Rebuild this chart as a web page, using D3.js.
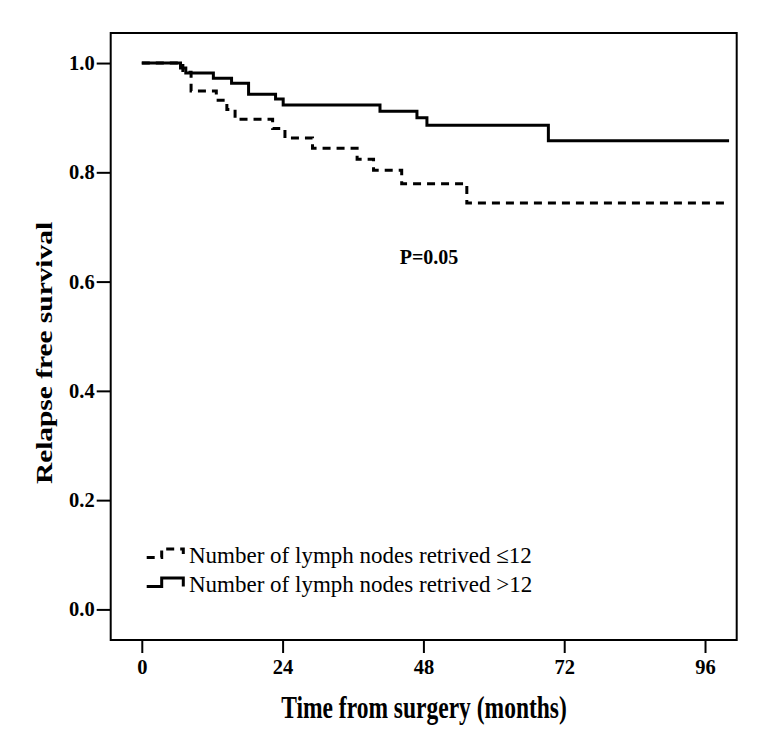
<!DOCTYPE html>
<html><head><meta charset="utf-8">
<script src="https://cdn.jsdelivr.net/npm/d3@7/dist/d3.min.js"></script>
<style>body{margin:0;background:#fff}svg{display:block}</style>
</head><body>
<script>
// ---- data ----
const lowTimes = [0, 7.0, 8.4, 12.7, 14.5, 15.9, 22.3, 24.4, 29.1, 36.7, 39.5, 44.3, 55.4, 100.1];
const lowSurv  = [1.0, 0.983, 0.949, 0.932, 0.915, 0.897, 0.880, 0.863, 0.844, 0.824, 0.804, 0.779, 0.744, 0.744];
const highTimes = [0, 6.6, 7.5, 12.2, 15.3, 18.2, 22.8, 24.1, 40.6, 46.9, 48.6, 69.3, 100.1];
const highSurv  = [1.0, 0.991, 0.982, 0.972, 0.963, 0.943, 0.934, 0.923, 0.912, 0.900, 0.886, 0.858, 0.858];
const xTicks = [0, 24, 48, 72, 96];
const yTicks = [0.0, 0.2, 0.4, 0.6, 0.8, 1.0];
const legendLabels = ["Number of lymph nodes retrived \u226412", "Number of lymph nodes retrived >12"];
const pLabel = "P=0.05";
const xTitle = "Time from surgery (months)";
const yTitle = "Relapse free survival";

const W = 770, H = 742;
const box = {left: 110.7, right: 736.7, top: 33, bottom: 640};
const svg = d3.select("body").append("svg").attr("width", W).attr("height", H);
const font = "'Liberation Serif','Times New Roman',serif";

const x = d3.scaleLinear().domain([-5.3, 101.4]).range([box.left, box.right]);
const y = d3.scaleLinear().domain([-0.056, 1.055]).range([box.bottom, box.top]);

// axes
const yAxis = svg.append("g").attr("transform", `translate(${box.left},0)`)
  .call(d3.axisLeft(y).tickValues(yTicks).tickSize(14).tickPadding(2).tickFormat(d3.format(".1f")));
const xAxis = svg.append("g").attr("transform", `translate(0,${box.bottom})`)
  .call(d3.axisBottom(x).tickValues(xTicks).tickSize(13).tickPadding(6).tickFormat(d3.format("d")));
[yAxis, xAxis].forEach(g => {
  g.select(".domain").remove();
  g.selectAll(".tick line").attr("stroke", "#000").attr("stroke-width", 2);
  g.selectAll(".tick text").attr("fill", "#000").style("font-family", font)
    .style("font-weight", "bold").style("font-size", "20.5px");
});

// box
svg.append("rect").attr("x", box.left).attr("y", box.top)
  .attr("width", box.right - box.left).attr("height", box.bottom - box.top)
  .attr("fill", "none").attr("stroke", "#000").attr("stroke-width", 2);

// curves
const line = d3.line().x(d => x(d[0])).y(d => y(d[1])).curve(d3.curveStepAfter);
const lowData = lowTimes.map((t, i) => [t, lowSurv[i]]);
const highData = highTimes.map((t, i) => [t, highSurv[i]]);
svg.append("path").datum(highData).attr("d", line)
  .attr("fill", "none").attr("stroke", "#000").attr("stroke-width", 3);
svg.append("path").datum(lowData).attr("d", line)
  .attr("fill", "none").attr("stroke", "#000").attr("stroke-width", 3)
  .attr("stroke-dasharray", "8,6");

// P label
svg.append("text").attr("x", 429).attr("y", 264).attr("text-anchor", "middle")
  .style("font-family", font).style("font-weight", "bold").style("font-size", "20px")
  .text(pLabel);

// legend
const legY = [563, 592];
legendLabels.forEach((lab, i) => {
  const by = legY[i] - 5.5, hy = by - 8.5;
  svg.append("path")
    .attr("d", `M146.7,${by}H161.7V${hy}H183.3V${by}`)
    .attr("fill", "none").attr("stroke", "#000").attr("stroke-width", 3)
    .attr("stroke-dasharray", i === 0 ? "8,6" : null);
  svg.append("text").attr("x", 189).attr("y", legY[i])
    .style("font-family", font).style("font-size", "23px").text(lab);
});

// titles
svg.append("text").attr("transform", "translate(424,718) scale(1,1.36)")
  .attr("text-anchor", "middle")
  .style("font-family", font).style("font-weight", "bold").style("font-size", "23.5px")
  .text(xTitle);
svg.append("text").attr("transform", "translate(44,353) scale(1,1.25) rotate(-90)")
  .attr("text-anchor", "middle").attr("dy", "0.35em")
  .style("font-family", font).style("font-weight", "bold").style("font-size", "23.5px")
  .text(yTitle);
</script>
</body></html>
